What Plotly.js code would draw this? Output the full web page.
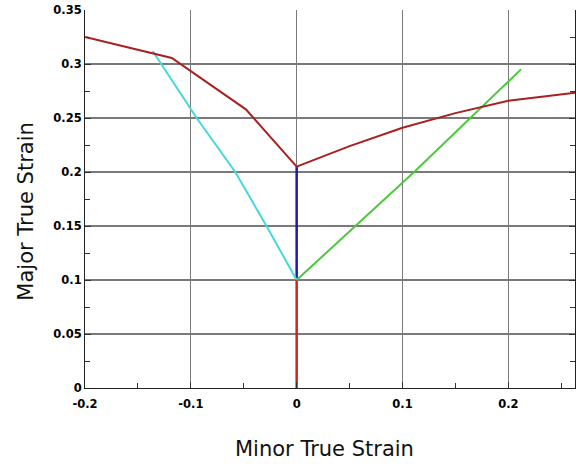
<!DOCTYPE html>
<html><head><meta charset="utf-8">
<script src="https://cdn.plot.ly/plotly-3.0.1.min.js"></script>
<style>html,body{margin:0;padding:0;background:#fff;}#chart{width:576px;height:464px;}</style>
</head><body><div id="chart"></div>
<script>
// Upper forming limit curve (dark red)
const flcX = [-0.2, -0.118, -0.048, 0, 0.05, 0.1, 0.15, 0.2, 0.264];
const flcY = [0.325, 0.3056, 0.258, 0.205, 0.224, 0.241, 0.2545, 0.266, 0.2735];
// Cyan (left branch)
const cyanX = [-0.136, -0.0945, -0.058, -0.0285, 0];
const cyanY = [0.312, 0.25, 0.2, 0.15, 0.1];
// Green (right branch)
const greenX = [0, 0.111, 0.212];
const greenY = [0.1, 0.2, 0.295];
// Blue vertical segment
const blueX = [0, 0];
const blueY = [0.1, 0.205];
// Red vertical segment
const redX = [0, 0];
const redY = [0, 0.1];
// Axis ticks
const xTicks = [-0.2, -0.1, 0, 0.1, 0.2];
const xTickText = ['-0.2', '-0.1', '0', '0.1', '0.2'];
const yTicks = [0, 0.05, 0.1, 0.15, 0.2, 0.25, 0.3, 0.35];
const yTickText = ['0', '0.05', '0.1', '0.15', '0.2', '0.25', '0.3', '0.35'];

const mk = (x, y, c, w) => ({x, y, type: 'scatter', mode: 'lines', line: {color: c, width: w}, hoverinfo: 'skip'});
const data = [
  mk(redX, redY, '#cc2424', 2.5),
  mk(blueX, blueY, '#1c1ca8', 2.5),
  mk(cyanX, cyanY, '#44d8dc', 2),
  mk(greenX, greenY, '#4cc83c', 2),
  mk(flcX, flcY, '#a82020', 2)
];
const tickfont = {family: 'DejaVu Sans', size: 11.5, color: '#000', weight: 'bold'};
const titleFont = {family: 'DejaVu Sans', size: 21, color: '#111'};
const layout = {
  width: 576, height: 464,
  margin: {l: 85, r: 1, t: 10, b: 76},
  paper_bgcolor: '#fff', plot_bgcolor: '#fff',
  showlegend: false,
  xaxis: {
    range: [-0.2, 0.263], tickvals: xTicks, ticktext: xTickText,
    ticks: 'inside', ticklen: 6, tickcolor: '#333', tickfont: tickfont, ticklabelstandoff: 5,
    showgrid: true, gridcolor: '#7a7a7a', gridwidth: 1.2,
    showline: true, linecolor: '#222', linewidth: 1, zeroline: false,
    minor: {dtick: 0.05, tick0: 0, ticks: 'inside', ticklen: 5, tickcolor: '#333', showgrid: false}
  },
  yaxis: {
    range: [0, 0.35], tickvals: yTicks, ticktext: yTickText,
    ticks: 'inside', ticklen: 6, tickcolor: '#333', tickfont: tickfont,
    showgrid: true, gridcolor: '#7a7a7a', gridwidth: 1.2,
    showline: true, linecolor: '#222', linewidth: 1, zeroline: false, mirror: 'ticks',
    minor: {dtick: 0.025, tick0: 0, ticks: 'inside', ticklen: 5, tickcolor: '#333', showgrid: false}
  },
  annotations: [
    {text: 'Minor True Strain', xref: 'paper', yref: 'paper', x: 0.488, y: -0.161, xanchor: 'center', yanchor: 'middle', showarrow: false, font: titleFont},
    {text: 'Major True Strain', xref: 'paper', yref: 'paper', x: -0.12, y: 0.467, xanchor: 'center', yanchor: 'middle', textangle: -90, showarrow: false, font: titleFont}
  ]
};
Plotly.newPlot('chart', data, layout, {staticPlot: true, displayModeBar: false});
</script></body></html>
